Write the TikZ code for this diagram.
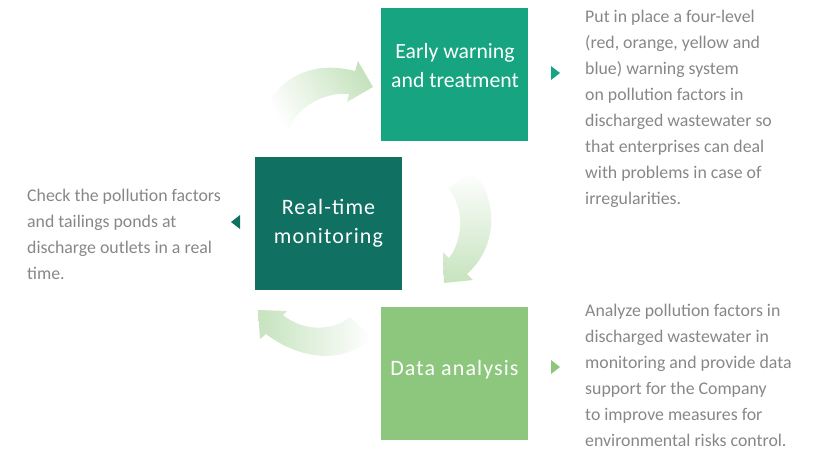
\documentclass[tikz,border=0pt]{standalone}
\usepackage{fontspec}
\setmainfont{Carlito}
\definecolor{ewcol}{RGB}{22,165,128}
\definecolor{rtcol}{RGB}{16,112,98}
\definecolor{dacol}{RGB}{141,199,125}
\definecolor{txtcol}{RGB}{135,135,135}
\definecolor{arrcol}{RGB}{198,227,190}
\begin{document}
\begin{tikzpicture}[x=1pt,y=1pt,
  stagebox/.style={rectangle, minimum width=147pt, minimum height=133pt, inner sep=0pt},
  boxtext/.style={anchor=base, inner sep=0pt, text=white, align=center},
  desc/.style={anchor=base west, inner sep=0pt, align=left, text=txtcol, font=\fontsize{17.8}{26}\selectfont}]
\useasboundingbox (0,0) rectangle (839,-451);
% stage boxes
\node[stagebox, fill=ewcol] (ew) at (454.5,-74.5) {};
\node[stagebox, fill=rtcol] (rt) at (328.5,-223) {};
\node[stagebox, fill=dacol] (da) at (454.5,-373) {};
\node[boxtext, font=\fontsize{21.7}{29}\selectfont] (ewt) at (455,-87) {Early warning\\and treatment};
\node[boxtext, font=\fontsize{22}{29}\selectfont\addfontfeatures{LetterSpace=5}] (rtt) at (328.5,-243) {Real-time\\monitoring};
\node[boxtext, font=\fontsize{22}{29}\selectfont\addfontfeatures{LetterSpace=5}] (dat) at (454.5,-375) {Data analysis};
% descriptions (anchored at the baseline of the last line)
\node[desc] (dl) at (27,-279) {Check the pollution factors\\and tailings ponds at\\discharge outlets in a real\\time.};
\node[desc] (dt) at (585,-204) {Put in place a four-level\\(red, orange, yellow and\\blue) warning system\\on pollution factors in\\discharged wastewater so\\that enterprises can deal\\with problems in case of\\irregularities.};
\node[desc] (db) at (585,-446) {Analyze pollution factors in\\discharged wastewater in\\monitoring and provide data\\support for the Company\\to improve measures for\\environmental risks control.};
% small pointers
\fill[rtcol] (231,-222) -- (240,-215) -- (240,-229) -- cycle;
\fill[ewcol] (560,-73) -- (551,-66) -- (551,-80) -- cycle;
\fill[dacol] (560,-367) -- (551,-360) -- (551,-374) -- cycle;
% curved arrows
\shade[top color=arrcol, bottom color=white, shading angle=-60]
  (262,-121) .. controls (270,-85) and (305,-58) .. (355,-71)
  -- (358,-61) -- (373,-87) -- (347,-102) -- (349,-94)
  .. controls (325,-92) and (300,-105) .. (289,-128) -- cycle;
\shade[top color=white, bottom color=arrcol]
  (472,-171) .. controls (497,-195) and (500,-245) .. (467,-274)
  -- (473,-280) -- (444,-283) -- (443,-252) -- (449,-258)
  .. controls (463,-240) and (465,-208) .. (448,-188) -- cycle;
\shade[left color=arrcol, right color=white]
  (258,-310) -- (287,-311) -- (283,-315)
  .. controls (305,-333) and (335,-330) .. (350,-317)
  -- (372,-337) .. controls (345,-365) and (300,-360) .. (266,-334)
  -- (260,-339) -- cycle;
\end{tikzpicture}
\end{document}
